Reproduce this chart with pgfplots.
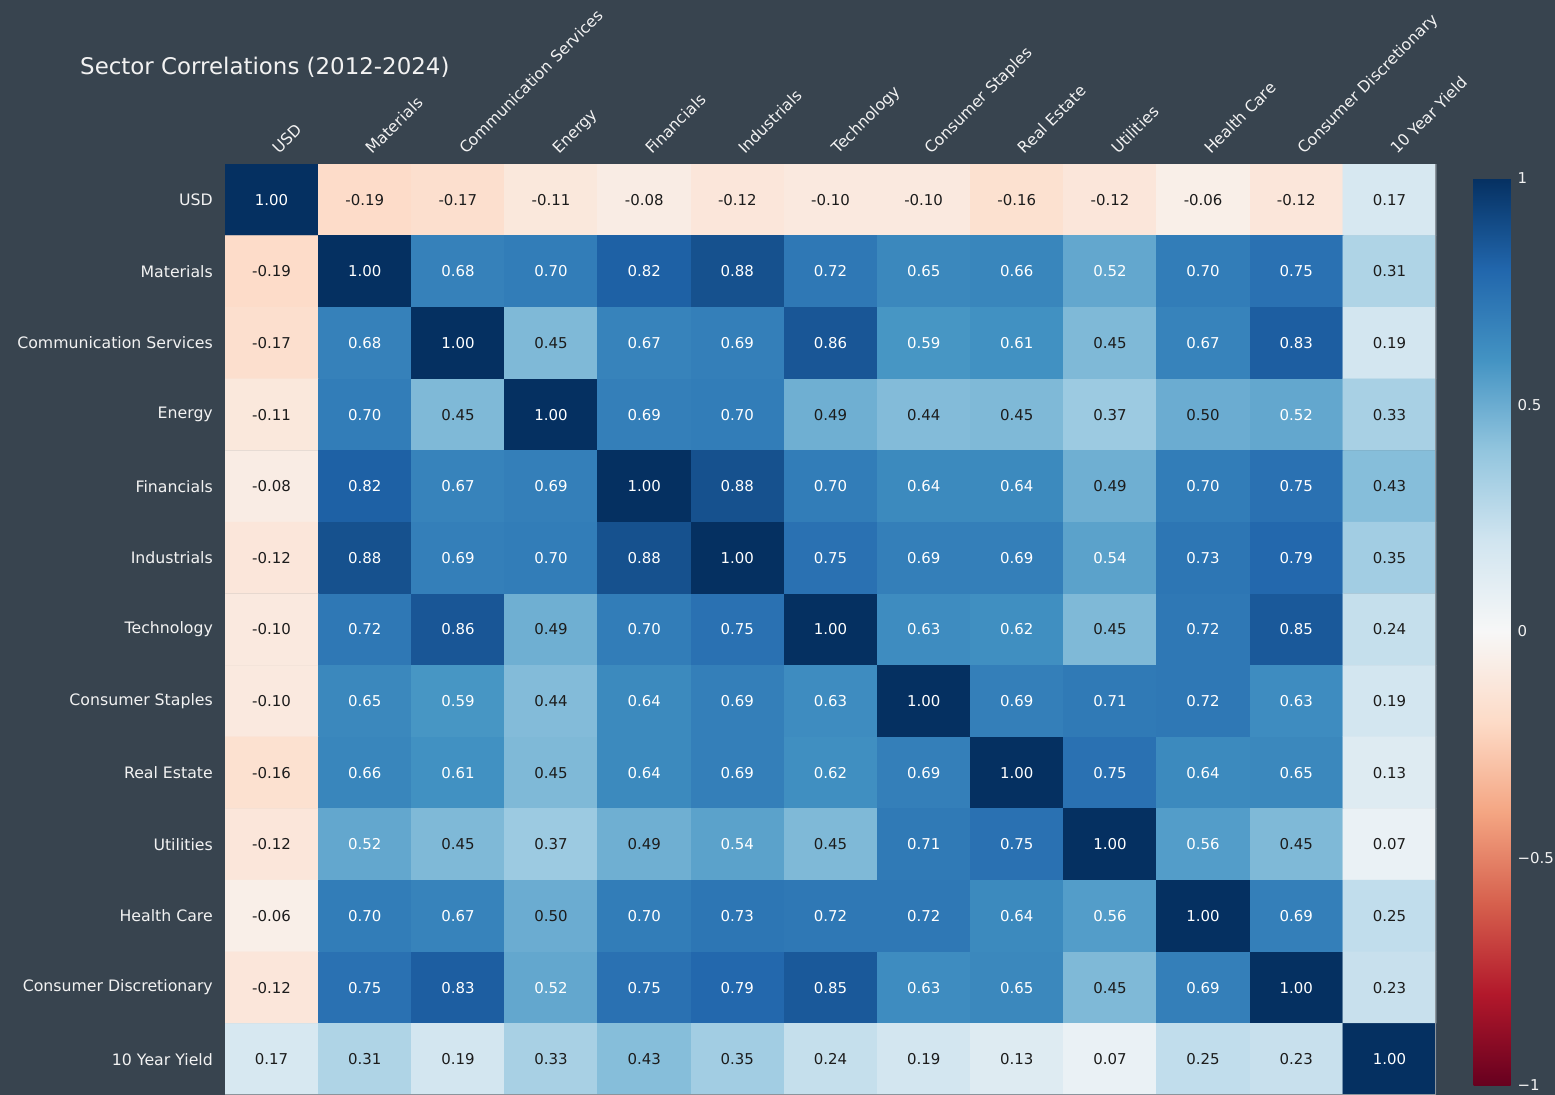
\documentclass[border=0pt]{standalone}
\usepackage{fontspec}
\setmainfont{DejaVu Sans}
\usepackage{pgfplots}
\pgfplotsset{compat=1.18}
\usepackage{pgfplotstable}
\definecolor{bgc}{RGB}{56,68,79}
\definecolor{lbl}{RGB}{242,242,242}
\definecolor{dtxt}{RGB}{28,28,28}
\definecolor{bordc}{RGB}{140,148,156}

\pgfplotstableread{
x y v
0 0 1.00
1 1 1.00
2 1 0.68
3 1 0.70
4 1 0.82
5 1 0.88
6 1 0.72
7 1 0.65
8 1 0.66
9 1 0.52
10 1 0.70
11 1 0.75
1 2 0.68
2 2 1.00
4 2 0.67
5 2 0.69
6 2 0.86
7 2 0.59
8 2 0.61
10 2 0.67
11 2 0.83
1 3 0.70
3 3 1.00
4 3 0.69
5 3 0.70
11 3 0.52
1 4 0.82
2 4 0.67
3 4 0.69
4 4 1.00
5 4 0.88
6 4 0.70
7 4 0.64
8 4 0.64
10 4 0.70
11 4 0.75
1 5 0.88
2 5 0.69
3 5 0.70
4 5 0.88
5 5 1.00
6 5 0.75
7 5 0.69
8 5 0.69
9 5 0.54
10 5 0.73
11 5 0.79
1 6 0.72
2 6 0.86
4 6 0.70
5 6 0.75
6 6 1.00
7 6 0.63
8 6 0.62
10 6 0.72
11 6 0.85
1 7 0.65
2 7 0.59
4 7 0.64
5 7 0.69
6 7 0.63
7 7 1.00
8 7 0.69
9 7 0.71
10 7 0.72
11 7 0.63
1 8 0.66
2 8 0.61
4 8 0.64
5 8 0.69
6 8 0.62
7 8 0.69
8 8 1.00
9 8 0.75
10 8 0.64
11 8 0.65
1 9 0.52
5 9 0.54
7 9 0.71
8 9 0.75
9 9 1.00
10 9 0.56
1 10 0.70
2 10 0.67
4 10 0.70
5 10 0.73
6 10 0.72
7 10 0.72
8 10 0.64
9 10 0.56
10 10 1.00
11 10 0.69
1 11 0.75
2 11 0.83
3 11 0.52
4 11 0.75
5 11 0.79
6 11 0.85
7 11 0.63
8 11 0.65
10 11 0.69
11 11 1.00
12 12 1.00
}\lightlab

\pgfplotstableread{
x y v
1 0 -0.19
2 0 -0.17
3 0 -0.11
4 0 -0.08
5 0 -0.12
6 0 -0.10
7 0 -0.10
8 0 -0.16
9 0 -0.12
10 0 -0.06
11 0 -0.12
12 0 0.17
0 1 -0.19
12 1 0.31
0 2 -0.17
3 2 0.45
9 2 0.45
12 2 0.19
0 3 -0.11
2 3 0.45
6 3 0.49
7 3 0.44
8 3 0.45
9 3 0.37
10 3 0.50
12 3 0.33
0 4 -0.08
9 4 0.49
12 4 0.43
0 5 -0.12
12 5 0.35
0 6 -0.10
3 6 0.49
9 6 0.45
12 6 0.24
0 7 -0.10
3 7 0.44
12 7 0.19
0 8 -0.16
3 8 0.45
12 8 0.13
0 9 -0.12
2 9 0.45
3 9 0.37
4 9 0.49
6 9 0.45
11 9 0.45
12 9 0.07
0 10 -0.06
3 10 0.50
12 10 0.25
0 11 -0.12
9 11 0.45
12 11 0.23
0 12 0.17
1 12 0.31
2 12 0.19
3 12 0.33
4 12 0.43
5 12 0.35
6 12 0.24
7 12 0.19
8 12 0.13
9 12 0.07
10 12 0.25
11 12 0.23
}\darklab

\pgfplotstableread{
x y v
0 0 1.00
1 0 -0.19
2 0 -0.17
3 0 -0.11
4 0 -0.08
5 0 -0.12
6 0 -0.10
7 0 -0.10
8 0 -0.16
9 0 -0.12
10 0 -0.06
11 0 -0.12
12 0 0.17
0 1 -0.19
1 1 1.00
2 1 0.68
3 1 0.70
4 1 0.82
5 1 0.88
6 1 0.72
7 1 0.65
8 1 0.66
9 1 0.52
10 1 0.70
11 1 0.75
12 1 0.31
0 2 -0.17
1 2 0.68
2 2 1.00
3 2 0.45
4 2 0.67
5 2 0.69
6 2 0.86
7 2 0.59
8 2 0.61
9 2 0.45
10 2 0.67
11 2 0.83
12 2 0.19
0 3 -0.11
1 3 0.70
2 3 0.45
3 3 1.00
4 3 0.69
5 3 0.70
6 3 0.49
7 3 0.44
8 3 0.45
9 3 0.37
10 3 0.50
11 3 0.52
12 3 0.33
0 4 -0.08
1 4 0.82
2 4 0.67
3 4 0.69
4 4 1.00
5 4 0.88
6 4 0.70
7 4 0.64
8 4 0.64
9 4 0.49
10 4 0.70
11 4 0.75
12 4 0.43
0 5 -0.12
1 5 0.88
2 5 0.69
3 5 0.70
4 5 0.88
5 5 1.00
6 5 0.75
7 5 0.69
8 5 0.69
9 5 0.54
10 5 0.73
11 5 0.79
12 5 0.35
0 6 -0.10
1 6 0.72
2 6 0.86
3 6 0.49
4 6 0.70
5 6 0.75
6 6 1.00
7 6 0.63
8 6 0.62
9 6 0.45
10 6 0.72
11 6 0.85
12 6 0.24
0 7 -0.10
1 7 0.65
2 7 0.59
3 7 0.44
4 7 0.64
5 7 0.69
6 7 0.63
7 7 1.00
8 7 0.69
9 7 0.71
10 7 0.72
11 7 0.63
12 7 0.19
0 8 -0.16
1 8 0.66
2 8 0.61
3 8 0.45
4 8 0.64
5 8 0.69
6 8 0.62
7 8 0.69
8 8 1.00
9 8 0.75
10 8 0.64
11 8 0.65
12 8 0.13
0 9 -0.12
1 9 0.52
2 9 0.45
3 9 0.37
4 9 0.49
5 9 0.54
6 9 0.45
7 9 0.71
8 9 0.75
9 9 1.00
10 9 0.56
11 9 0.45
12 9 0.07
0 10 -0.06
1 10 0.70
2 10 0.67
3 10 0.50
4 10 0.70
5 10 0.73
6 10 0.72
7 10 0.72
8 10 0.64
9 10 0.56
10 10 1.00
11 10 0.69
12 10 0.25
0 11 -0.12
1 11 0.75
2 11 0.83
3 11 0.52
4 11 0.75
5 11 0.79
6 11 0.85
7 11 0.63
8 11 0.65
9 11 0.45
10 11 0.69
11 11 1.00
12 11 0.23
0 12 0.17
1 12 0.31
2 12 0.19
3 12 0.33
4 12 0.43
5 12 0.35
6 12 0.24
7 12 0.19
8 12 0.13
9 12 0.07
10 12 0.25
11 12 0.23
12 12 1.00
}\corr

\begin{document}
\begin{tikzpicture}
\useasboundingbox (0,0) rectangle (1555bp,-1095bp);
\fill[bgc] (0,0) rectangle (1555bp,-1095bp);
\node[anchor=base west, text=lbl, font=\fontsize{23}{27}\selectfont, inner sep=0pt] at (80bp,-74bp) {Sector Correlations (2012-2024)};
\begin{axis}[
  at={(225bp,-164bp)}, anchor=north west,
  scale only axis, width=1211bp, height=931bp,
  xmin=-0.5, xmax=12.5, ymin=-0.5, ymax=12.5, y dir=reverse,
  enlargelimits=false,
  axis line style={draw=none},
  major tick length=0pt,
  xtick={0,...,12}, ytick={0,...,12},
  xticklabel pos=upper,
  xticklabels={USD,Materials,Communication Services,Energy,Financials,Industrials,Technology,Consumer Staples,Real Estate,Utilities,Health Care,Consumer Discretionary,10 Year Yield},
  yticklabels={USD,Materials,Communication Services,Energy,Financials,Industrials,Technology,Consumer Staples,Real Estate,Utilities,Health Care,Consumer Discretionary,10 Year Yield},
  xticklabel style={xshift=8bp, rotate=45, anchor=base west, inner sep=0pt, text=lbl, font=\fontsize{15.8}{18}\selectfont},
  xticklabel shift=9bp,
  yticklabel style={anchor=east, inner sep=0pt, text=lbl, font=\fontsize{15.8}{18}\selectfont},
  yticklabel shift=12bp,
  colormap={rdbu}{rgb255=(103,0,31) rgb255=(178,24,43) rgb255=(214,96,77) rgb255=(244,165,130) rgb255=(253,219,199) rgb255=(247,247,247) rgb255=(209,229,240) rgb255=(146,197,222) rgb255=(67,147,195) rgb255=(33,102,172) rgb255=(5,48,97)},
  point meta min=-1, point meta max=1,
  colorbar,
  colorbar/width=37bp,
  colorbar style={
    at={(parent axis.north east)}, anchor=north west,
    xshift=29bp, yshift=-14bp,
    scale only axis, width=37bp, height=907bp,
    axis line style={draw=none},
    major tick length=0pt,
    ytick={-1,-0.5,0,0.5,1},
    yticklabels={−1,−0.5,0,0.5,1},
    yticklabel style={anchor=west, inner sep=0pt, xshift=7bp, text=lbl, font=\fontsize{15}{18}\selectfont},
  },
  labelplot/.style={scatter, only marks, mark=none,
    point meta=explicit symbolic,
    scatter/@pre marker code/.code={\node[anchor=center, inner sep=0pt, text=#1, font=\fontsize{15}{18}\selectfont] {\color{#1}\pgfplotspointmeta};},
    scatter/@post marker code/.code={},
  },
]
\addplot[matrix plot*, mesh/cols=13, point meta=explicit] table[x=x, y=y, meta=v] {\corr};
\addplot[labelplot=white] table[x=x, y=y, meta=v] {\lightlab};
\addplot[labelplot=dtxt] table[x=x, y=y, meta=v] {\darklab};
\draw[bordc, line width=1.2bp] (rel axis cs:0,0) -- (rel axis cs:1,0) -- (rel axis cs:1,1);
\end{axis}
\end{tikzpicture}
\end{document}
